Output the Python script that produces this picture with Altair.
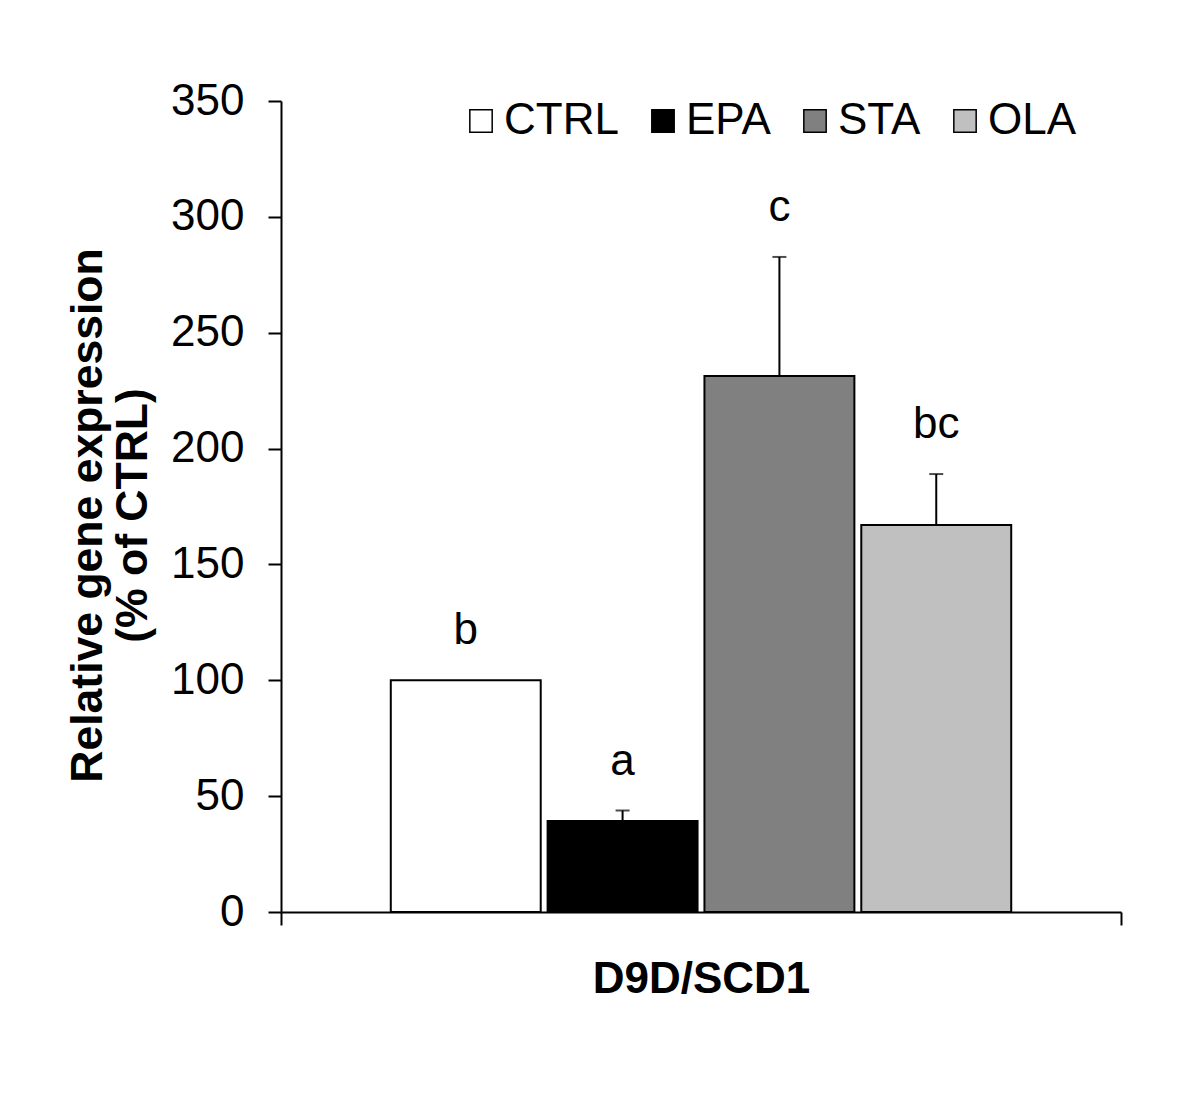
import altair as alt
import pandas as pd

genes = ["D9D/SCD1", "D9D/SCD1", "D9D/SCD1", "D9D/SCD1"]
treatments = ["CTRL", "EPA", "STA", "OLA"]
means = [100.0, 39.3, 231.3, 167.0]
errors = [0.0, 4.5, 51.4, 22.0]
letters = ["b", "a", "c", "bc"]
colors = ["#ffffff", "#000000", "#808080", "#c0c0c0"]

df = pd.DataFrame({
    "gene": genes,
    "treatment": treatments,
    "mean": means,
    "err": errors,
    "letter": letters,
})
df["top"] = df["mean"] + df["err"]

FONT = "Liberation Sans"

x_enc = alt.X(
    "gene:N",
    scale=alt.Scale(paddingInner=0, paddingOuter=0),
    axis=alt.Axis(
        title=None, labelAngle=0, tickBand="extent", labelFontSize=44,
        labelFontWeight="bold", labelFont=FONT, labelColor="black",
        labelPadding=32, tickSize=13, tickWidth=2, tickColor="black",
        domainColor="black", domainWidth=2, labelBaseline="top",
        labelLimit=600,
    ),
)
xo_enc = alt.XOffset(
    "treatment:N", sort=treatments,
    scale=alt.Scale(paddingInner=0.044, paddingOuter=0.70),
)
y_scale = alt.Scale(domain=[0, 350])

bars = alt.Chart(df).mark_bar(stroke="black", strokeWidth=2).encode(
    x=x_enc,
    xOffset=xo_enc,
    y=alt.Y(
        "mean:Q", scale=y_scale,
        axis=alt.Axis(
            title=["Relative gene expression", "(% of CTRL)"],
            titleFont=FONT, titleFontSize=44.5, titleFontWeight="bold",
            titleColor="black", titleLineHeight=45, titlePadding=15,
            titleY=414,
            values=[0, 50, 100, 150, 200, 250, 300, 350],
            labelFont=FONT, labelFontSize=44, labelColor="black",
            labelPadding=24, tickSize=13, tickWidth=2, tickColor="black",
            domainColor="black", domainWidth=2, grid=False,
        ),
    ),
    color=alt.Color(
        "treatment:N",
        scale=alt.Scale(domain=treatments, range=colors),
        legend=alt.Legend(
            title=None, orient="none", legendX=178, legendY=-2,
            direction="horizontal", symbolType="square", symbolSize=500,
            symbolStrokeColor="black", symbolStrokeWidth=1.5,
            labelFont=FONT, labelFontSize=44, labelColor="black",
            labelOffset=1, columnPadding=22, padding=0, labelLimit=300,
        ),
    ),
)

err_df = alt.datum.err > 0

rules = alt.Chart(df).transform_filter(err_df).mark_rule(
    color="black", strokeWidth=2
).encode(
    x=alt.X("gene:N"),
    xOffset=alt.XOffset("treatment:N", sort=treatments),
    y=alt.Y("mean:Q"),
    y2="top:Q",
)

caps = alt.Chart(df).transform_filter(err_df).mark_tick(
    color="black", thickness=2, size=14, orient="horizontal"
).encode(
    x=alt.X("gene:N"),
    xOffset=alt.XOffset("treatment:N", sort=treatments),
    y=alt.Y("top:Q"),
)

labels = alt.Chart(df).mark_text(
    font=FONT, fontSize=44, color="black", baseline="alphabetic", dy=-36
).encode(
    x=alt.X("gene:N"),
    xOffset=alt.XOffset("treatment:N", sort=treatments),
    y=alt.Y("top:Q"),
    text="letter:N",
)

chart = alt.layer(bars, rules, caps, labels).properties(
    width=840, height=811,
    background="white",
    autosize=alt.AutoSizeParams(type="none"),
    padding={"left": 273, "top": 93, "right": 71, "bottom": 178},
).configure_view(stroke=None, strokeWidth=0)

chart.save("out.html", embed_options={"renderer": "svg", "actions": False})
